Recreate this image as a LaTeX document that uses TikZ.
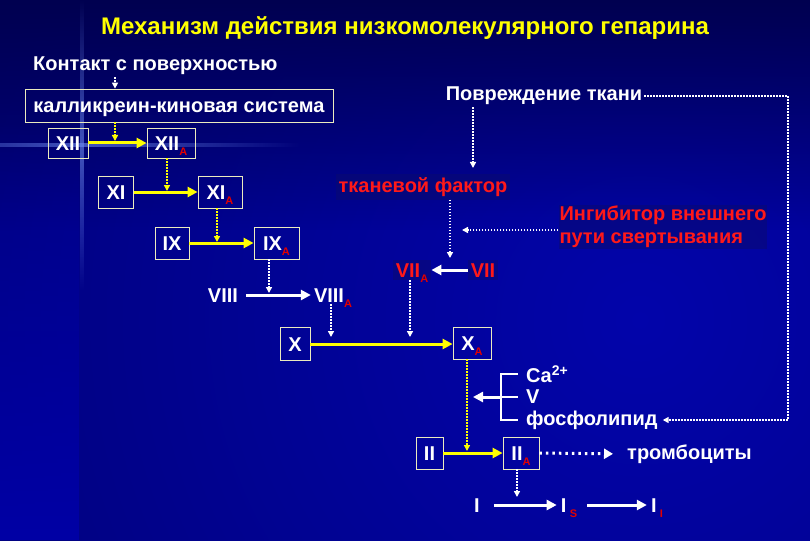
\documentclass[tikz,border=0pt]{standalone}
\usepackage{fontspec}
\setmainfont{Liberation Sans}
\usetikzlibrary{arrows.meta, positioning, calc, fadings}

\definecolor{bgtop}{RGB}{0,0,80}
\definecolor{bgdark}{RGB}{0,0,100}
\definecolor{bgbright}{RGB}{2,4,170}
\definecolor{bgleft}{RGB}{0,0,165}
\definecolor{glowblue}{RGB}{110,140,240}
\definecolor{boxline}{RGB}{235,235,190}
\definecolor{arrowyellow}{RGB}{255,255,0}
\definecolor{redtxt}{RGB}{255,25,25}
\definecolor{subred}{RGB}{225,0,0}
\definecolor{redbg}{RGB}{10,10,110}

\tikzfading[name=fade ends, top color=transparent!100, bottom color=transparent!100, middle color=transparent!0]
\tikzfading[name=fade sides, left color=transparent!100, right color=transparent!100, middle color=transparent!0]

\newcommand{\actsub}[1]{\raisebox{-0.55ex}{\fontsize{11}{11}\selectfont\color{subred}#1}}

\tikzset{
  fbox/.style={draw=boxline, line width=0.8pt, text=white, font=\bfseries\fontsize{20}{22}\selectfont, inner sep=0pt, minimum height=32pt, text height=14pt, text depth=0pt},
  ftext/.style={text=white, font=\bfseries\fontsize{20}{22}\selectfont, inner sep=2pt},
  redtext/.style={text=redtxt, font=\bfseries\fontsize{20}{23}\selectfont, inner sep=3pt, fill=redbg, fill opacity=0.5, text opacity=1},
  num/.style={text height=14pt, text depth=0pt},
  yarrow/.style={draw=arrowyellow, line width=3pt, -{Triangle[length=10pt,width=10pt]}},
  warrow/.style={draw=white, line width=3pt, -{Triangle[length=10pt,width=10pt]}},
  ydots/.style={draw=arrowyellow, line width=1.6pt, dash pattern=on 1.6pt off 1.4pt, -{Triangle[length=6pt,width=6pt]}},
  wdots/.style={draw=white, line width=1.6pt, dash pattern=on 1.6pt off 1.4pt, -{Triangle[length=6pt,width=6pt]}},
  bigdots/.style={draw=white, line width=3pt, dash pattern=on 2.5pt off 4pt, -{Triangle[length=9pt,width=10pt]}},
}

\begin{document}
\begin{tikzpicture}[x=1pt, y=-1pt]
\useasboundingbox (0,0) rectangle (810,540);

% Hintergrund
\fill[bgdark] (0,0) rectangle (810,540);
\begin{scope}
  \clip (0,0) rectangle (810,540);
  \shade[inner color=bgbright, outer color=bgdark] (640,320) circle (1150);
\end{scope}
\fill[bgtop, path fading=south] (0,0) rectangle (810,230);
\fill[bgleft, path fading=north] (0,120) rectangle (79,540);
\fill[glowblue, opacity=0.6, path fading=fade ends] (80,0) rectangle (84,290);
\fill[glowblue, opacity=0.6, path fading=fade sides] (-130,143) rectangle (300,147);

% Titel
\node[text=arrowyellow, font=\bfseries\fontsize{24}{26}\selectfont] (title) at (405,28) {Механизм действия низкомолекулярного гепарина};

% Kontaktweg
\node[ftext, anchor=west] (contact) at (31,66) {Контакт с поверхностью};
\node[fbox, minimum width=308pt, minimum height=33pt] (kks) at (179,105.5) {калликреин-киновая система};
\node[fbox, minimum width=40pt, minimum height=30pt] (xii) at (68,143) {XII};
\node[fbox, minimum width=48pt, minimum height=30pt] (xiia) at (171,143) {XII\actsub{A}};
\node[fbox, minimum width=35pt] (xi) at (116,192) {XI};
\node[fbox, minimum width=44pt] (xia) at (220,192) {XI\actsub{A}};
\node[fbox, minimum width=34pt] (ix) at (172,243) {IX};
\node[fbox, minimum width=45pt] (ixa) at (276.5,243) {IX\actsub{A}};
\node[ftext, num] (viii) at (223,295) {VIII};
\node[ftext, num] (viiia) at (333,295) {VIII\actsub{A}};

\coordinate (k0) at (115,0);
\coordinate (k1) at (115,141);
\coordinate (k2) at (167,191);
\coordinate (k3) at (217,242);
\coordinate (k4) at (269,293);
\draw[wdots] (contact.south -| k0) -- (kks.north -| k0);
\draw[ydots] (kks.south -| k0) -- (k1);
\draw[yarrow] (xii) -- (xiia);
\draw[ydots] (xiia.south -| k2) -- (k2);
\draw[yarrow] (xi) -- (xia);
\draw[ydots] (xia.south -| k3) -- (k3);
\draw[yarrow] (ix) -- (ixa);
\draw[wdots] (ixa.south -| k4) -- (k4);
\draw[warrow, shorten <=6pt, shorten >=1pt] (viii) -- (viiia);

% Gewebefaktor
\node[ftext] (damage) at (544,96) {Повреждение ткани};
\node[redtext] (tf) at (423,187) {тканевой фактор};
\node[redtext, align=left, inner sep=1pt] (inh) at (663,227) {Ингибитор внешнего\\пути свертывания};
\node[redtext, num] (vii) at (483,270) {VII};
\node[redtext, num] (viia) at (412,270) {VII\actsub{A}};

\coordinate (k9) at (473,168);
\coordinate (k10) at (450,258);
\coordinate (k11) at (462,230);
\draw[wdots] (damage.south -| k9) -- (k9);
\draw[wdots] (tf.south -| k10) -- (k10);
\draw[wdots] (inh.west |- k11) -- (k11);
\draw[warrow] (vii) -- (viia);

% Faktor X
\node[fbox, minimum width=30pt, minimum height=33pt] (x) at (295,344) {X};
\node[fbox, minimum width=38pt] (xa) at (472,343) {X\actsub{A}};

\coordinate (k5) at (331,337);
\coordinate (k6) at (410,337);
\draw[wdots] (viiia.south -| k5) -- (k5);
\draw[wdots] (viia.south -| k6) -- (k6);
\draw[yarrow] (x.east) -- (x.east -| xa.west);

% Kofaktoren
\node[ftext, anchor=west] (ca) at (524,374) {Ca\textsuperscript{2+}};
\node[ftext, anchor=west] (vv) at (524,397) {V};
\node[ftext, anchor=west] (fos) at (524,420) {фосфолипид};

\coordinate (brk) at (501,0);
\coordinate (k12) at (473,397);
\coordinate (corner) at (788,0);
\draw[white, line width=2.5pt, shorten <=6pt, shorten >=6pt] (ca.west) -- (ca.west -| brk) -- (fos.west -| brk) -- (fos.west);
\draw[white, line width=2.5pt, shorten <=6pt] (vv.west) -- (vv.west -| brk);
\draw[warrow] (vv.west -| brk) -- (k12);
\draw[wdots, shorten >=3pt] (damage.east) -- (damage.east -| corner) |- (fos.east);

% Thrombin und Fibrin
\node[fbox, minimum width=27pt] (ii) at (429.5,453) {II};
\node[fbox, minimum width=36pt] (iia) at (521,453) {II\actsub{A}};
\node[ftext, anchor=west] (tromb) at (625,454) {тромбоциты};
\node[ftext, num] (fi) at (477,505) {I};
\node[ftext, num] (fis) at (569,505) {I\,\actsub{S}};
\node[ftext, num] (fii) at (657,505) {I\,\actsub{I}};

\coordinate (k7) at (467,451);
\coordinate (k8) at (517,497);
\draw[ydots] (xa.south -| k7) -- (k7);
\draw[yarrow] (ii) -- (iia);
\draw[bigdots, shorten >=12pt] (iia.east) -- (tromb.west);
\draw[wdots] (iia.south -| k8) -- (k8);
\draw[warrow, shorten <=12pt, shorten >=2pt] (fi.east) -- (fis.west);
\draw[warrow, shorten <=8pt, shorten >=2pt] (fis.east) -- (fii.west);

\end{tikzpicture}
\end{document}
